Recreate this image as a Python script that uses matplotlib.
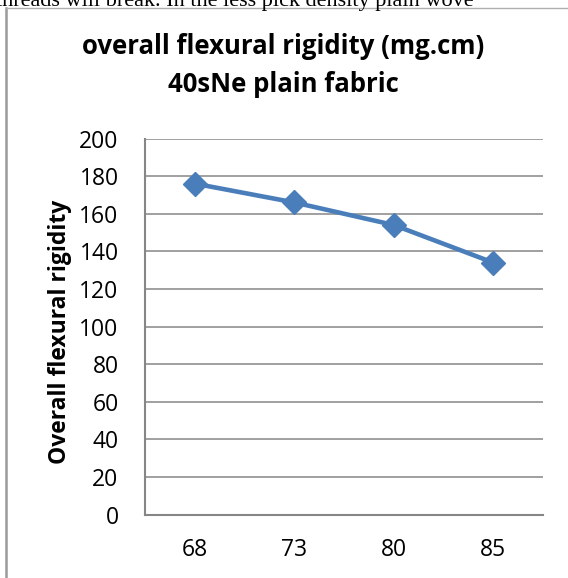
import matplotlib
matplotlib.use("Agg")
import matplotlib.pyplot as plt
from matplotlib.lines import Line2D

categories = ["68", "73", "80", "85"]
rigidity = [176, 166, 154, 134]
y_ticks = [0, 20, 40, 60, 80, 100, 120, 140, 160, 180, 200]
title_lines = ["overall flexural rigidity (mg.cm)", "40sNe plain fabric"]
y_label = "Overall flexural rigidity"
top_text = "threads will break. In the less pick density plain wove"

W, H = 568, 578
fig = plt.figure(figsize=(W / 100, H / 100), dpi=100)
FONT = "Open Sans"

def fx(px):
    return px / W

def fy(py):
    return 1 - py / H

# cut-off body text at top (as in the reference page crop)
fig.text(fx(-4), fy(6), top_text, family="Liberation Serif", fontsize=16,
         va="baseline", ha="left", color="black")

# chart frame
fig.add_artist(Line2D([fx(6), fx(6)], [fy(8), fy(H + 5)], transform=fig.transFigure,
                      color="#9a9a9a", lw=1.8))
fig.add_artist(Line2D([fx(6), fx(W + 5)], [fy(8), fy(8)], transform=fig.transFigure,
                      color="#b0b0b0", lw=1.0))

ax = fig.add_axes([fx(145), fy(514.6), (543 - 145) / W, (514.6 - 138.5) / H])
xs = list(range(len(categories)))
ax.plot(xs, rigidity, color="#4A7EBB", lw=3.3, marker="D", ms=12,
        markerfacecolor="#4A7EBB", markeredgecolor="#4A7EBB", zorder=3, clip_on=False)
ax.set_xlim(-0.5, len(categories) - 0.5)
ax.set_ylim(0, 200)
ax.set_yticks(y_ticks)
ax.set_xticks(xs)
ax.set_xticklabels(categories)
ax.grid(axis="y", color="#868686", lw=1.1)
ax.set_axisbelow(True)
for s in ["top", "right"]:
    ax.spines[s].set_visible(False)
for s in ["left", "bottom"]:
    ax.spines[s].set_color("#868686")
    ax.spines[s].set_linewidth(1.5)
ax.tick_params(axis="both", length=0, labelsize=16.5)
ax.tick_params(axis="y", pad=19)
ax.tick_params(axis="x", pad=17)
for lab in ax.get_xticklabels() + ax.get_yticklabels():
    lab.set_family(FONT)

fig.text(fx(60), fy(332), y_label, rotation=90, ha="center", va="center",
         family=FONT, fontweight="bold", fontsize=16.5)
fig.text(fx(283), fy(46), title_lines[0], ha="center", va="center",
         family=FONT, fontweight="bold", fontsize=18.5)
fig.text(fx(283), fy(85), title_lines[1], ha="center", va="center",
         family=FONT, fontweight="bold", fontsize=18.5)

fig.savefig("out.png", dpi=100)
